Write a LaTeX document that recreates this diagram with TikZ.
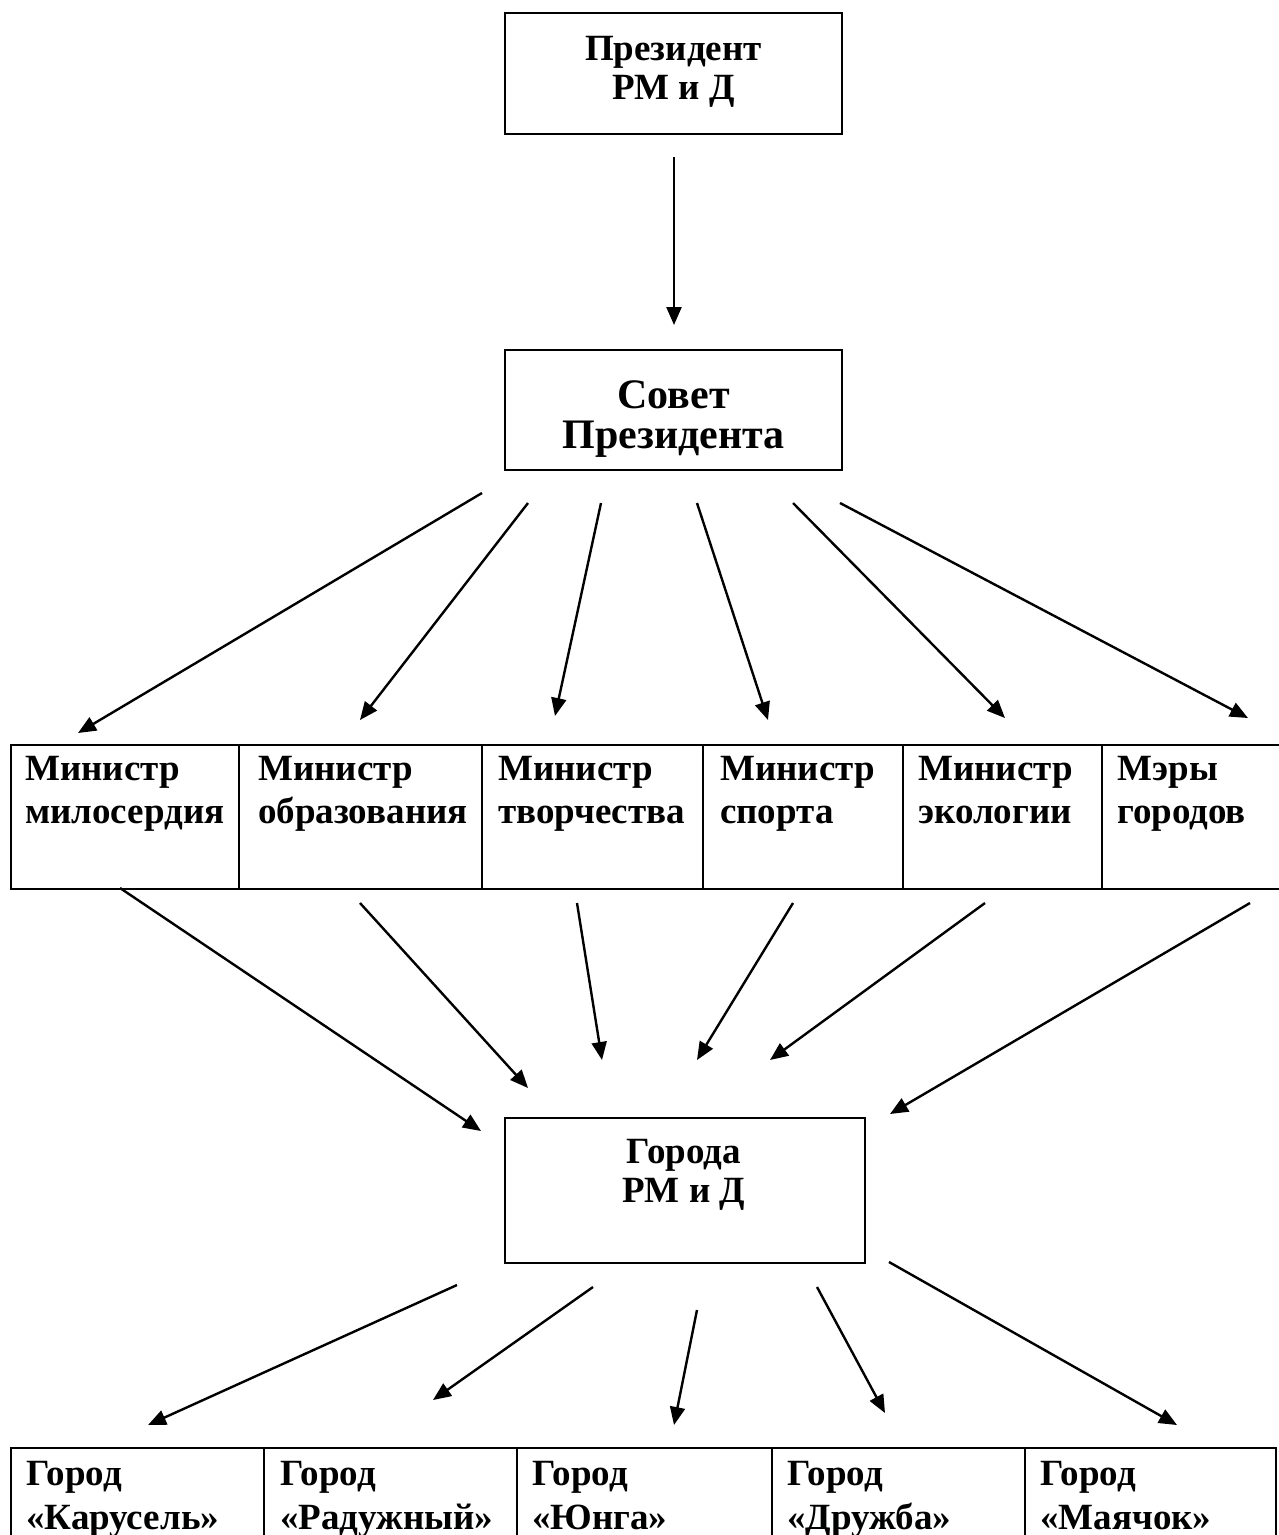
\documentclass[tikz,border=0pt]{standalone}
\usepackage{fontspec}
\setmainfont{Liberation Serif}
\usetikzlibrary{arrows.meta}
\begin{document}
\begin{tikzpicture}[x=1pt,y=-1pt,
  box/.style={draw, line width=2.5pt, rectangle, inner sep=0pt, outer sep=0pt},
  ctext/.style={align=center, inner sep=0pt, font=\bfseries\fontsize{37}{39}\selectfont},
  ln/.style={inner sep=0pt, font=\bfseries\fontsize{37}{43}\selectfont},
  arr/.style={line width=2.4pt, -{Triangle[length=18pt,width=15pt]}}]
\useasboundingbox[fill=white] (0,0) rectangle (1278,1535);

% top boxes
\node[box, minimum width=337pt, minimum height=121pt] (pres) at (673.5,73.5) {};
\node[ctext] (prest) at (673.5,72) {Президент\\РМ и Д};
\node[box, minimum width=337pt, minimum height=120pt] (sovet) at (673.5,410) {};
\node[ctext, font=\bfseries\fontsize{42}{40}\selectfont] (sovett) at (673.5,419) {Совет\\Президента};
\node[box, minimum width=360pt, minimum height=145pt] (goroda) at (685,1190.5) {};
\node[ctext] (gorodat) at (684,1175) {Города\\РМ и Д};

% ministers row
\foreach \i/\xl/\xr/\dx/\a/\b in {1/11/239/14/Министр/милосердия,
    2/239/482/19/Министр/образования,
    3/482/703/16/Министр/творчества,
    4/703/903/17/Министр/спорта,
    5/903/1102/15/Министр/экологии,
    6/1102/1285/15/Мэры/городов}{
  \node[box, anchor=north west, minimum width={(\xr-\xl)*1pt}, minimum height=144pt] (m\i) at (\xl,745) {};
  \node[ln, anchor=base west] (m\i a) at (\xl+\dx,780) {\a};
  \node[ln, anchor=base west] (m\i b) at (\xl+\dx,823) {\b};
}

% cities row
\foreach \i/\xl/\xr/\dx/\b in {1/11/264/15/«Карусель»,
    2/264/517/16/«Радужный»,
    3/517/772/15/«Юнга»,
    4/772/1025/15/«Дружба»,
    5/1025/1276/15/«Маячок»}{
  \node[box, anchor=north west, minimum width={(\xr-\xl)*1pt}, minimum height=120pt] (c\i) at (\xl,1448) {};
  \node[ln, anchor=base west] (c\i a) at (\xl+\dx,1485) {Город};
  \node[ln, anchor=base west] (c\i b) at (\xl+\dx,1529) {\b};
}

% arrow end points
\coordinate (p0) at (674,157);  \coordinate (q0) at (674,325);
\coordinate (s1) at (482,493);  \coordinate (t1) at (78,733);
\coordinate (s2) at (528,503);  \coordinate (t2) at (360,720);
\coordinate (s3) at (601,503);  \coordinate (t3) at (555,716);
\coordinate (s4) at (697,503);  \coordinate (t4) at (768,720);
\coordinate (s5) at (793,503);  \coordinate (t5) at (1005,718);
\coordinate (s6) at (840,503);  \coordinate (t6) at (1248,718);
\coordinate (u1) at (120,888);  \coordinate (v1) at (481,1131);
\coordinate (u2) at (360,903);  \coordinate (v2) at (528,1088);
\coordinate (u3) at (577,903);  \coordinate (v3) at (602,1060);
\coordinate (u4) at (793,903);  \coordinate (v4) at (697,1060);
\coordinate (u5) at (985,903);  \coordinate (v5) at (770,1060);
\coordinate (u6) at (1250,903); \coordinate (v6) at (890,1114);
\coordinate (w1) at (457,1285); \coordinate (z1) at (148,1425);
\coordinate (w2) at (593,1287); \coordinate (z2) at (433,1400);
\coordinate (w3) at (697,1310); \coordinate (z3) at (674,1425);
\coordinate (w4) at (817,1287); \coordinate (z4) at (885,1413);
\coordinate (w5) at (889,1262); \coordinate (z5) at (1177,1425);

\draw[arr] (p0) -- (q0);
\foreach \k in {1,...,6}{\draw[arr] (s\k) -- (t\k); \draw[arr] (u\k) -- (v\k);}
\foreach \k in {1,...,5}{\draw[arr] (w\k) -- (z\k);}
\end{tikzpicture}
\end{document}
